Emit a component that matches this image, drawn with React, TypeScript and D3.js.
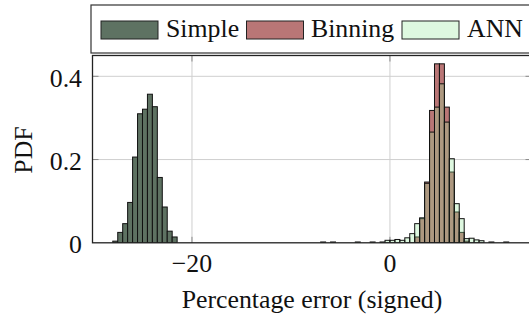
import React from "react";
import * as d3 from "d3";

// bin left edges (width 0.5) and PDF heights
const binWidth = 0.5;

const simpleBins = [-28, -27.5, -27, -26.5, -26, -25.5, -25, -24.5, -24, -23.5, -23, -22.5, -22];
const simplePdf = [0.004, 0.025, 0.046, 0.097, 0.206, 0.31, 0.321, 0.357, 0.327, 0.157, 0.086, 0.028, 0.014];

const binningBins = [2.5, 3, 3.5, 4, 4.5, 5, 5.5, 6, 6.5, 7, 7.5];
const binningPdf = [0.014, 0.058, 0.146, 0.318, 0.43, 0.43, 0.326, 0.17, 0.074, 0.025, 0.004];

const annBins = [-7, -6, -3.5, -2, -1, -0.5, 0, 0.5, 1, 1.5, 2, 2.5, 3, 3.5, 4, 4.5, 5, 5.5, 6, 6.5, 7, 7.5, 8, 8.5, 9, 10, 11.5];
const annPdf = [0.002, 0.002, 0.002, 0.002, 0.002, 0.006, 0.006, 0.008, 0.006, 0.012, 0.022, 0.046, 0.06, 0.143, 0.266, 0.326, 0.382, 0.29, 0.202, 0.094, 0.058, 0.01, 0.011, 0.007, 0.005, 0.002, 0.002];

const xTicks = [-20, 0];
const yTicks = [0, 0.2, 0.4];
const legendNames = ["Simple", "Binning", "ANN"];

const W = 529;
const H = 317;
const font = "Liberation Serif";

const series = [
  { name: "Simple", bins: simpleBins, pdf: simplePdf, fill: "#5e7262", opacity: 1 },
  { name: "Binning", bins: binningBins, pdf: binningPdf, fill: "#b97676", opacity: 1 },
  { name: "ANN", bins: annBins, pdf: annPdf, fill: "#91e898", opacity: 0.3 },
];

export default function App() {
  const left = 92.5, top = 55.5, bottom = 242.8, right = 531.5;
  const x = d3.scaleLinear().domain([-30.05, 14.3]).range([left, right]);
  const y = d3.scaleLinear().domain([0, 0.45]).range([bottom, top]);

  const fmtY = (v: number) => (v === 0 ? "0" : d3.format(".1f")(v));
  const fmtX = (v: number) => (v < 0 ? "\u2212" + Math.abs(v) : String(v));

  // legend layout
  const legend = [
    { sx: 101, tx: 166 },
    { sx: 246.5, tx: 311 },
    { sx: 402, tx: 467 },
  ];

  const textStyle: React.CSSProperties = { fontFamily: font, fontSize: "25.8px" };

  return (
    <svg width={W} height={H} style={{ position: "absolute", left: 0, top: 0, background: "#fff" }}>
      <defs>
        <clipPath id="plotClip">
          <rect x={left} y={top} width={right - left} height={bottom - top} />
        </clipPath>
      </defs>

      {/* grid */}
      <g stroke="#cfcfcf" strokeWidth={1}>
        {xTicks.map((t) => (
          <line key={"gx" + t} x1={x(t)} x2={x(t)} y1={top} y2={bottom} />
        ))}
        {yTicks.filter((t) => t > 0).map((t) => (
          <line key={"gy" + t} x1={left} x2={right} y1={y(t)} y2={y(t)} />
        ))}
      </g>
      {/* ticks */}
      <g stroke="#8a8a8a" strokeWidth={1}>
        {xTicks.map((t) => (
          <g key={"tx" + t}>
            <line x1={x(t)} x2={x(t)} y1={bottom} y2={bottom - 6} />
            <line x1={x(t)} x2={x(t)} y1={top} y2={top + 6} />
          </g>
        ))}
        {yTicks.filter((t) => t > 0).map((t) => (
          <g key={"ty" + t}>
            <line x1={left} x2={left + 6} y1={y(t)} y2={y(t)} />
            <line x1={right} x2={right - 6} y1={y(t)} y2={y(t)} />
          </g>
        ))}
      </g>

      {/* bars */}
      <g clipPath="url(#plotClip)">
        {series.map((s) => (
          <g key={s.name}>
            {s.bins.map((b, i) => (
              <rect
                key={i}
                x={x(b)}
                y={y(s.pdf[i])}
                width={x(b + binWidth) - x(b)}
                height={y(0) - y(s.pdf[i])}
                fill={s.fill}
                fillOpacity={s.opacity}
                stroke="#111"
                strokeWidth={1}
              />
            ))}
          </g>
        ))}
      </g>

      {/* frame */}
      <rect x={left} y={top} width={right - left} height={bottom - top} fill="none" stroke="#222" strokeWidth={1.3} />

      {/* tick labels */}
      <g style={textStyle} fill="#111">
        {yTicks.map((t) => (
          <text key={"ly" + t} x={82} y={y(t) + 10.5} textAnchor="end">
            {fmtY(t)}
          </text>
        ))}
        {xTicks.map((t) => (
          <text key={"lx" + t} x={x(t)} y={272} textAnchor="middle">
            {fmtX(t)}
          </text>
        ))}
        <text x={(left + right) / 2} y={308} textAnchor="middle">
          Percentage error (signed)
        </text>
        <text transform="translate(32,150) rotate(-90)" textAnchor="middle">
          PDF
        </text>
      </g>

      {/* legend */}
      <rect x={91} y={5} width={460} height={48} fill="#fff" stroke="#333" strokeWidth={1.2} />
      {legendNames.map((n, i) => {
        const s = series[i];
        return (
          <g key={n}>
            <rect x={legend[i].sx} y={21} width={57} height={18} fill="#fff" stroke="none" />
            <rect
              x={legend[i].sx}
              y={21}
              width={57}
              height={18}
              fill={s.fill}
              fillOpacity={s.opacity}
              stroke="#222"
              strokeWidth={1}
            />
            <text x={legend[i].tx} y={37} style={textStyle} fill="#111">
              {n}
            </text>
          </g>
        );
      })}
    </svg>
  );
}
